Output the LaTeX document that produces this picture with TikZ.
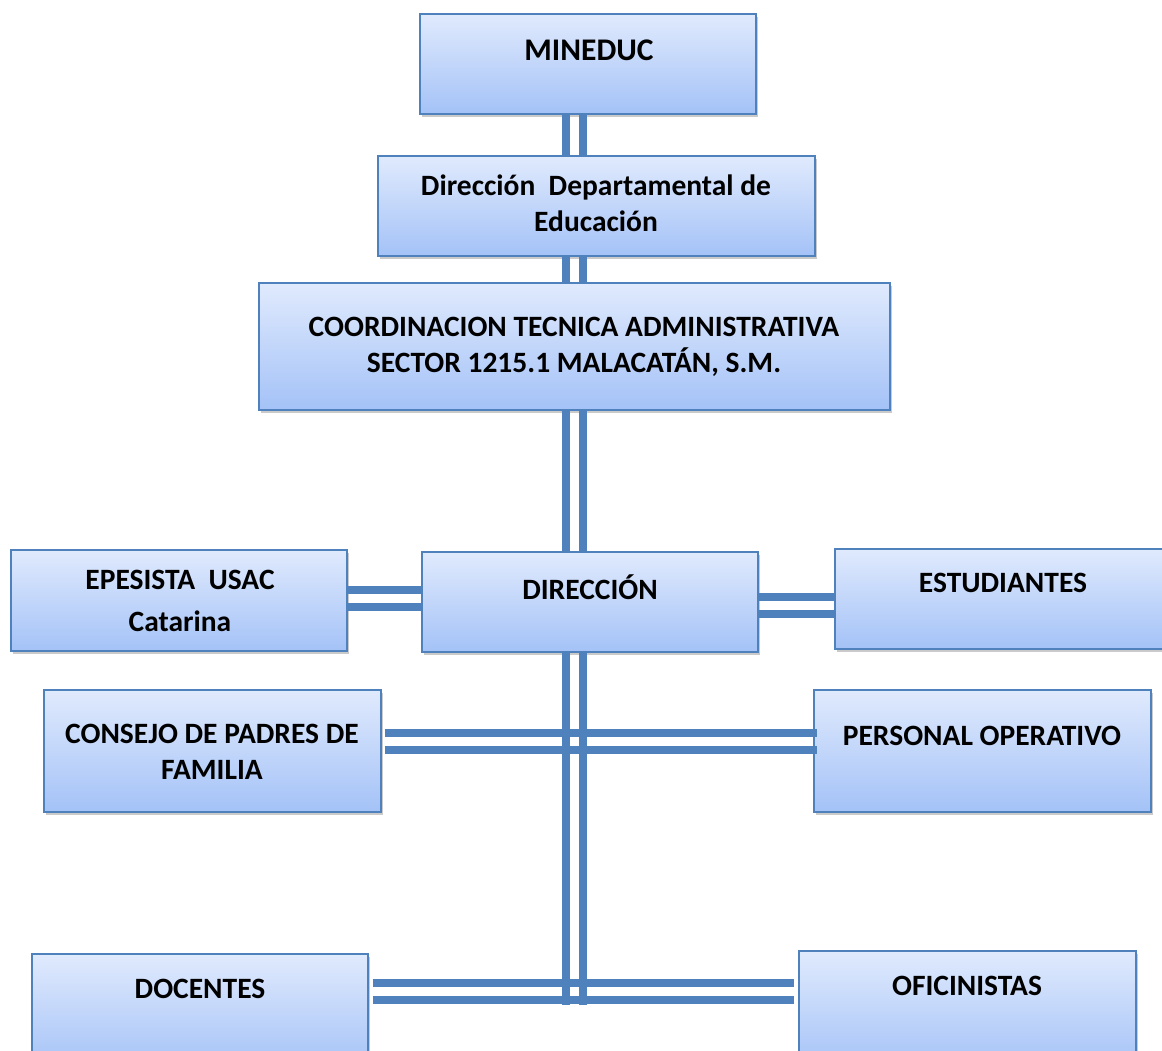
\documentclass[tikz,border=0pt]{standalone}
\usepackage{fontspec}
\setmainfont{Carlito}
\usetikzlibrary{shadows}
\definecolor{lineblue}{RGB}{79,129,189}
\definecolor{boxtop}{RGB}{224,234,253}
\definecolor{boxbot}{RGB}{164,194,247}
\tikzset{
  box/.style={draw=lineblue, line width=1.2pt, top color=boxtop, bottom color=boxbot,
    drop shadow={shadow xshift=2pt, shadow yshift=-3pt, opacity=0.35, fill=black!60},
    rectangle, inner sep=0pt},
  lbl/.style={font=\fontsize{29.5}{36}\selectfont\bfseries, align=center, inner sep=0pt, anchor=center},
  conn/.style={draw=lineblue, line width=7.5pt}
}
\newcommand{\mybox}[5]{% name, x1, y1, x2, y2
  \node[box, minimum width={(#4-#2)*1pt}, minimum height={(#5-#3)*1pt}] (#1) at ({(#2+#4)/2},{(#3+#5)/2}) {};}
\begin{document}
\begin{tikzpicture}[x=1pt,y=-1pt]
\useasboundingbox (0,0) rectangle (1162,1051);
\clip (0,0) rectangle (1162,1051);
% coordinates for connector lanes
\coordinate (vx1) at (566,0);
\coordinate (vx2) at (583,0);
\coordinate (bot) at (574.5,1005);
\coordinate (ha1) at (0,590);
\coordinate (ha2) at (0,607);
\coordinate (hb1) at (0,597);
\coordinate (hb2) at (0,614);
\coordinate (hc1) at (0,733);
\coordinate (hc2) at (0,750);
\coordinate (hd1) at (0,983);
\coordinate (hd2) at (0,1000);

\mybox{mineduc}{420}{14}{756}{114}
\mybox{dirdep}{378}{156}{815}{256}
\mybox{coord}{259}{283}{890}{410}
\mybox{epesista}{11}{550}{347}{651}
\mybox{direccion}{422}{552}{758}{652}
\mybox{estudiantes}{835}{549}{1175}{649}
\mybox{consejo}{44}{690}{381}{812}
\mybox{personal}{814}{690}{1151}{812}
\mybox{docentes}{32}{954}{368}{1070}
\mybox{oficinistas}{799}{951}{1136}{1070}

% connectors
\foreach \v in {vx1,vx2}{
  \draw[conn] (mineduc.south -| \v) -- (dirdep.north -| \v);
  \draw[conn] (dirdep.south -| \v) -- (coord.north -| \v);
  \draw[conn] (coord.south -| \v) -- (direccion.north -| \v);
  \draw[conn] (direccion.south -| \v) -- (bot -| \v);
}
\foreach \h in {ha1,ha2}{
  \draw[conn] (epesista.east |- \h) -- (direccion.west |- \h);
}
\foreach \h in {hb1,hb2}{
  \draw[conn] (direccion.east |- \h) -- (estudiantes.west |- \h);
}
\foreach \h in {hc1,hc2}{
  \draw[conn] ([xshift=3pt]consejo.east |- \h) -- ([xshift=4pt]personal.west |- \h);
}
\foreach \h in {hd1,hd2}{
  \draw[conn] ([xshift=4pt]docentes.east |- \h) -- ([xshift=-4pt]oficinistas.west |- \h);
}

% labels
\node[lbl,font=\fontsize{31.5}{36}\selectfont\bfseries] (t1) at (589,50) {MINEDUC};
\node[lbl] (t2) at (596,203.5) {Dirección\ \ Departamental de\\Educación};
\node[lbl] (t3) at (574,347) {COORDINACION TECNICA ADMINISTRATIVA\\SECTOR 1215.1 MALACATÁN, S.M.};
\node[lbl,font=\fontsize{29.5}{42}\selectfont\bfseries] (t4) at (180,601) {EPESISTA\ \ USAC\\Catarina};
\node[lbl] (t5) at (590,587) {DIRECCIÓN};
\node[lbl] (t6) at (1003,583) {ESTUDIANTES};
\node[lbl] (t7) at (212,752) {CONSEJO DE PADRES DE\\FAMILIA};
\node[lbl] (t8) at (982,736) {PERSONAL OPERATIVO};
\node[lbl] (t9) at (200,989) {DOCENTES};
\node[lbl] (t10) at (967,986) {OFICINISTAS};
\end{tikzpicture}
\end{document}
